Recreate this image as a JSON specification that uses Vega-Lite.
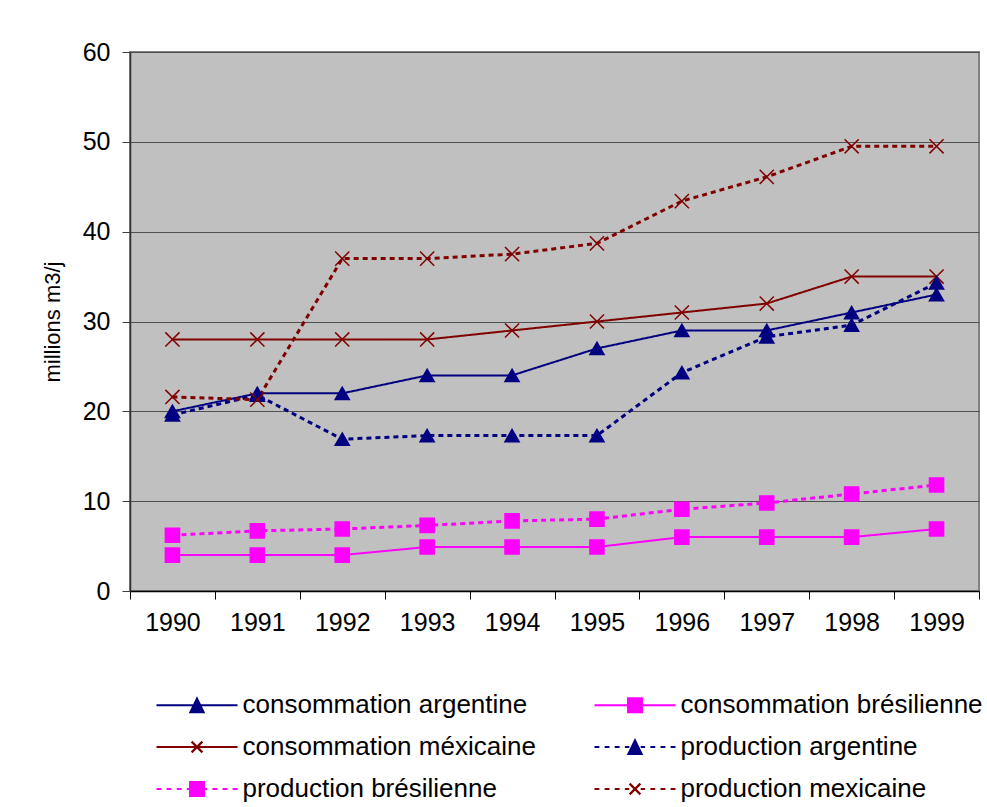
{
  "$schema": "https://vega.github.io/schema/vega-lite/v6.json",
  "autosize": {"type": "none"},
  "width": 849,
  "height": 539,
  "padding": {"left": 130, "top": 52, "right": 8, "bottom": 216},
  "background": "white",
  "config": {
    "font": "Liberation Sans",
    "view": {"fill": "#C0C0C0", "stroke": "#808080", "strokeWidth": 2},
    "axis": {"labelFont": "Liberation Sans", "titleFont": "Liberation Sans", "labelColor": "black", "titleColor": "black"}
  },
  "data": {
    "values": [
      {"year": "1990", "series": "consommation argentine", "kind": "consommation", "country": "argentine", "value": 20},
      {"year": "1991", "series": "consommation argentine", "kind": "consommation", "country": "argentine", "value": 22},
      {"year": "1992", "series": "consommation argentine", "kind": "consommation", "country": "argentine", "value": 22},
      {"year": "1993", "series": "consommation argentine", "kind": "consommation", "country": "argentine", "value": 24},
      {"year": "1994", "series": "consommation argentine", "kind": "consommation", "country": "argentine", "value": 24},
      {"year": "1995", "series": "consommation argentine", "kind": "consommation", "country": "argentine", "value": 27},
      {"year": "1996", "series": "consommation argentine", "kind": "consommation", "country": "argentine", "value": 29},
      {"year": "1997", "series": "consommation argentine", "kind": "consommation", "country": "argentine", "value": 29},
      {"year": "1998", "series": "consommation argentine", "kind": "consommation", "country": "argentine", "value": 31},
      {"year": "1999", "series": "consommation argentine", "kind": "consommation", "country": "argentine", "value": 33},
      {"year": "1990", "series": "consommation brésilienne", "kind": "consommation", "country": "brésilienne", "value": 4},
      {"year": "1991", "series": "consommation brésilienne", "kind": "consommation", "country": "brésilienne", "value": 4},
      {"year": "1992", "series": "consommation brésilienne", "kind": "consommation", "country": "brésilienne", "value": 4},
      {"year": "1993", "series": "consommation brésilienne", "kind": "consommation", "country": "brésilienne", "value": 4.9},
      {"year": "1994", "series": "consommation brésilienne", "kind": "consommation", "country": "brésilienne", "value": 4.9},
      {"year": "1995", "series": "consommation brésilienne", "kind": "consommation", "country": "brésilienne", "value": 4.9},
      {"year": "1996", "series": "consommation brésilienne", "kind": "consommation", "country": "brésilienne", "value": 6},
      {"year": "1997", "series": "consommation brésilienne", "kind": "consommation", "country": "brésilienne", "value": 6},
      {"year": "1998", "series": "consommation brésilienne", "kind": "consommation", "country": "brésilienne", "value": 6},
      {"year": "1999", "series": "consommation brésilienne", "kind": "consommation", "country": "brésilienne", "value": 6.9},
      {"year": "1990", "series": "consommation méxicaine", "kind": "consommation", "country": "mexicaine", "value": 28},
      {"year": "1991", "series": "consommation méxicaine", "kind": "consommation", "country": "mexicaine", "value": 28},
      {"year": "1992", "series": "consommation méxicaine", "kind": "consommation", "country": "mexicaine", "value": 28},
      {"year": "1993", "series": "consommation méxicaine", "kind": "consommation", "country": "mexicaine", "value": 28},
      {"year": "1994", "series": "consommation méxicaine", "kind": "consommation", "country": "mexicaine", "value": 29},
      {"year": "1995", "series": "consommation méxicaine", "kind": "consommation", "country": "mexicaine", "value": 30},
      {"year": "1996", "series": "consommation méxicaine", "kind": "consommation", "country": "mexicaine", "value": 31},
      {"year": "1997", "series": "consommation méxicaine", "kind": "consommation", "country": "mexicaine", "value": 32},
      {"year": "1998", "series": "consommation méxicaine", "kind": "consommation", "country": "mexicaine", "value": 35},
      {"year": "1999", "series": "consommation méxicaine", "kind": "consommation", "country": "mexicaine", "value": 35},
      {"year": "1990", "series": "production argentine", "kind": "production", "country": "argentine", "value": 19.6},
      {"year": "1991", "series": "production argentine", "kind": "production", "country": "argentine", "value": 21.8},
      {"year": "1992", "series": "production argentine", "kind": "production", "country": "argentine", "value": 16.9},
      {"year": "1993", "series": "production argentine", "kind": "production", "country": "argentine", "value": 17.3},
      {"year": "1994", "series": "production argentine", "kind": "production", "country": "argentine", "value": 17.3},
      {"year": "1995", "series": "production argentine", "kind": "production", "country": "argentine", "value": 17.3},
      {"year": "1996", "series": "production argentine", "kind": "production", "country": "argentine", "value": 24.3},
      {"year": "1997", "series": "production argentine", "kind": "production", "country": "argentine", "value": 28.3},
      {"year": "1998", "series": "production argentine", "kind": "production", "country": "argentine", "value": 29.6},
      {"year": "1999", "series": "production argentine", "kind": "production", "country": "argentine", "value": 34.3},
      {"year": "1990", "series": "production brésilienne", "kind": "production", "country": "brésilienne", "value": 6.2},
      {"year": "1991", "series": "production brésilienne", "kind": "production", "country": "brésilienne", "value": 6.7},
      {"year": "1992", "series": "production brésilienne", "kind": "production", "country": "brésilienne", "value": 6.9},
      {"year": "1993", "series": "production brésilienne", "kind": "production", "country": "brésilienne", "value": 7.3},
      {"year": "1994", "series": "production brésilienne", "kind": "production", "country": "brésilienne", "value": 7.8},
      {"year": "1995", "series": "production brésilienne", "kind": "production", "country": "brésilienne", "value": 8.0},
      {"year": "1996", "series": "production brésilienne", "kind": "production", "country": "brésilienne", "value": 9.1},
      {"year": "1997", "series": "production brésilienne", "kind": "production", "country": "brésilienne", "value": 9.8},
      {"year": "1998", "series": "production brésilienne", "kind": "production", "country": "brésilienne", "value": 10.8},
      {"year": "1999", "series": "production brésilienne", "kind": "production", "country": "brésilienne", "value": 11.8},
      {"year": "1990", "series": "production mexicaine", "kind": "production", "country": "mexicaine", "value": 21.6},
      {"year": "1991", "series": "production mexicaine", "kind": "production", "country": "mexicaine", "value": 21.3},
      {"year": "1992", "series": "production mexicaine", "kind": "production", "country": "mexicaine", "value": 37.0},
      {"year": "1993", "series": "production mexicaine", "kind": "production", "country": "mexicaine", "value": 37.0},
      {"year": "1994", "series": "production mexicaine", "kind": "production", "country": "mexicaine", "value": 37.5},
      {"year": "1995", "series": "production mexicaine", "kind": "production", "country": "mexicaine", "value": 38.7},
      {"year": "1996", "series": "production mexicaine", "kind": "production", "country": "mexicaine", "value": 43.4},
      {"year": "1997", "series": "production mexicaine", "kind": "production", "country": "mexicaine", "value": 46.1},
      {"year": "1998", "series": "production mexicaine", "kind": "production", "country": "mexicaine", "value": 49.5},
      {"year": "1999", "series": "production mexicaine", "kind": "production", "country": "mexicaine", "value": 49.5}
    ]
  },
  "encoding": {
    "x": {
      "field": "year", "type": "ordinal",
      "scale": {"type": "band", "paddingInner": 0, "paddingOuter": 0},
      "axis": {
        "title": null, "labelAngle": 0, "labelFontSize": 25, "labelPadding": 11,
        "tickBand": "extent", "tickSize": 8, "tickColor": "black", "domainColor": "black", "domainWidth": 1.5, "grid": false
      }
    },
    "y": {
      "field": "value", "type": "quantitative",
      "scale": {"domain": [0, 60], "nice": false},
      "axis": {
        "title": "millions m3/j", "titleFontSize": 22, "titleFontWeight": "normal", "titlePadding": 18,
        "values": [0, 10, 20, 30, 40, 50, 60], "labelFontSize": 25, "labelPadding": 12,
        "tickSize": 8, "tickColor": "#404040", "domainColor": "#303030", "domainWidth": 1.5,
        "grid": true, "gridColor": "#505050", "gridWidth": 1
      }
    }
  },
  "layer": [
    {
      "mark": {"type": "line"},
      "encoding": {
        "color": {
          "field": "series", "type": "nominal",
          "scale": {
            "domain": ["consommation argentine", "consommation brésilienne", "consommation méxicaine", "production argentine", "production brésilienne", "production mexicaine"],
            "range": ["#000080", "#FF00FF", "#800000", "#000080", "#FF00FF", "#800000"]
          },
          "legend": {
            "orient": "none", "legendX": 26, "legendY": 624.5, "columns": 2, "direction": "horizontal",
            "title": null, "padding": 0, "columnPadding": 54, "rowPadding": 0,
            "labelFont": "Liberation Sans", "labelFontSize": 26, "labelColor": "black",
            "symbolSize": 2916, "symbolStrokeWidth": 2.2, "symbolOffset": 12.5, "labelOffset": 17, "labelLimit": 400,
            "encode": {
              "symbols": {
                "update": {
                  "shape": {"signal": "datum.value == 'consommation argentine' ? 'M-1.5,0L1.5,0M0,-0.24L-0.24,0.255L0.24,0.255Z' : datum.value == 'consommation brésilienne' ? 'M-1.5,0L1.5,0M-0.255,-0.255L0.255,-0.255L0.255,0.255L-0.255,0.255Z' : datum.value == 'consommation méxicaine' ? 'M-1.5,0L1.5,0M-0.2,-0.2L0.2,0.2M-0.2,0.2L0.2,-0.2' : datum.value == 'production argentine' ? 'M-1.5,0L-1.32,0M-1.125,0L-0.945,0M-0.75,0L-0.57,0M-0.375,0L-0.21,0M0.21,0L0.375,0M0.57,0L0.75,0M0.945,0L1.125,0M1.32,0L1.5,0M0,-0.24L-0.24,0.255L0.24,0.255Z' : datum.value == 'production brésilienne' ? 'M-1.5,0L-1.32,0M-1.125,0L-0.945,0M-0.75,0L-0.57,0M-0.375,0L-0.21,0M0.21,0L0.375,0M0.57,0L0.75,0M0.945,0L1.125,0M1.32,0L1.5,0M-0.255,-0.255L0.255,-0.255L0.255,0.255L-0.255,0.255Z' : 'M-1.5,0L-1.32,0M-1.125,0L-0.945,0M-0.75,0L-0.57,0M-0.375,0L-0.21,0M0.21,0L0.375,0M0.57,0L0.75,0M0.945,0L1.125,0M1.32,0L1.5,0M-0.2,-0.2L0.2,0.2M-0.2,0.2L0.2,-0.2'"},
                  "fill": {"signal": "indexof(datum.value, 'argentine') >= 0 ? '#000080' : indexof(datum.value, 'sil') >= 0 ? '#FF00FF' : '#800000'"},
                  "stroke": {"signal": "indexof(datum.value, 'argentine') >= 0 ? '#000080' : indexof(datum.value, 'sil') >= 0 ? '#FF00FF' : '#800000'"},
                  "strokeDash": {"value": []},
                  "opacity": {"value": 1}
                }
              }
            }
          }
        },
        "strokeDash": {
          "field": "kind", "type": "nominal",
          "scale": {"domain": ["consommation", "production"], "range": [[1, 0], [5, 4]]},
          "legend": null
        },
        "strokeWidth": {
          "field": "kind", "type": "nominal",
          "scale": {"domain": ["consommation", "production"], "range": [2, 3]},
          "legend": null
        }
      }
    },
    {
      "mark": {"type": "point", "filled": true, "size": 200, "strokeWidth": 1.5, "opacity": 1},
      "encoding": {
        "detail": {"field": "series"},
        "fill": {
          "field": "country", "type": "nominal",
          "scale": {"domain": ["argentine", "brésilienne", "mexicaine"], "range": ["#000080", "#FF00FF", "#800000"]},
          "legend": null
        },
        "stroke": {
          "field": "country", "type": "nominal",
          "scale": {"domain": ["argentine", "brésilienne", "mexicaine"], "range": ["#000080", "#FF00FF", "#800000"]},
          "legend": null
        },
        "shape": {
          "field": "country", "type": "nominal",
          "scale": {"domain": ["argentine", "brésilienne", "mexicaine"], "range": ["triangle-up", "square", "M-1,-1L1,1M-1,1L1,-1"]},
          "legend": null
        }
      }
    }
  ]
}
